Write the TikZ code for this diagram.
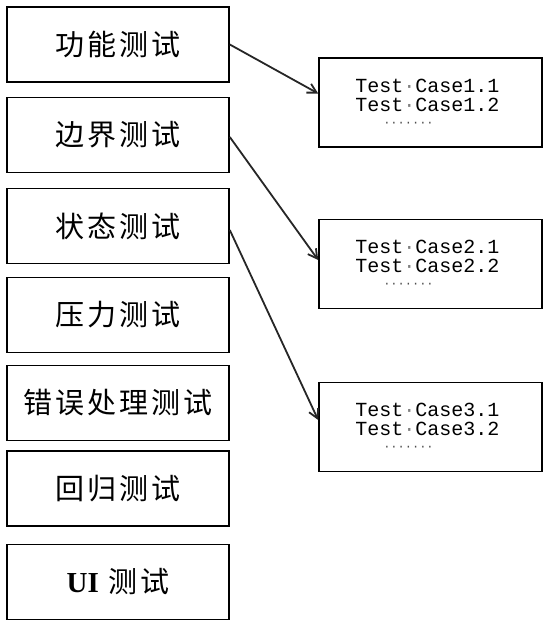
\documentclass[tikz,border=0pt]{standalone}
\usepackage{fontspec}
\newfontfamily\cjk[LetterSpace=10]{Noto Sans CJK SC}
\newfontfamily\mono{Liberation Mono}
\newfontfamily\serifb{Liberation Serif}
\usetikzlibrary{arrows.meta,calc}
\begin{document}
\begin{tikzpicture}[x=1pt,y=-1pt,
  lbox/.style={draw,line width=1.6pt,minimum width=222pt,minimum height=75pt,inner sep=0pt,
    font=\cjk\fontsize{29}{30}\selectfont},
  rbox/.style={draw,line width=1.6pt,minimum width=223pt,minimum height=89pt,inner sep=0pt},
  rtext/.style={inner sep=0pt,align=left,font=\mono\fontsize{20}{19}\selectfont},
  dots/.style={inner sep=0pt,text=black!70,font=\mono\fontsize{12}{12}\selectfont},
  conn/.style={draw=black!85,line width=1.8pt,-{Straight Barb[length=9pt,width=10pt]}}]
\path[use as bounding box] (0,0) rectangle (545,625);
\node[lbox] (b1) at (118,44.5) {功能测试};
\node[lbox] (b2) at (118,135) {边界测试};
\node[lbox] (b3) at (118,226) {状态测试};
\node[lbox] (b4) at (118,315) {压力测试};
\node[lbox] (b5) at (118,403) {错误处理测试};
\node[lbox] (b6) at (118,488.5) {回归测试};
\node[lbox] (b7) at (118,582) {{\serifb\bfseries UI} 测试};
\node[rbox] (r1) at (430.5,102.5) {};
\node[rbox] (r2) at (430.5,264) {};
\node[rbox] (r3) at (430.5,427) {};
\node[rtext] (r1t) at ($(r1)+(-3,-7.5)$) {Test{\color{gray}·}Case1.1\\Test{\color{gray}·}Case1.2};
\node[rtext] (r2t) at ($(r2)+(-3,-7.5)$) {Test{\color{gray}·}Case2.1\\Test{\color{gray}·}Case2.2};
\node[rtext] (r3t) at ($(r3)+(-3,-7.5)$) {Test{\color{gray}·}Case3.1\\Test{\color{gray}·}Case3.2};
\node[dots] (r1d) at ($(r1)+(-22,21.5)$) {·······};
\node[dots] (r2d) at ($(r2)+(-22,21.5)$) {·······};
\node[dots] (r3d) at ($(r3)+(-22,21.5)$) {·······};
\coordinate (t1) at ($(r1.west)+(0,-9)$);
\coordinate (t2) at ($(r2.west)+(0,-4)$);
\coordinate (t3) at ($(r3.west)+(0,-7)$);
\coordinate (s2) at ($(b2.east)+(0,2)$);
\coordinate (s3) at ($(b3.east)+(0,4)$);
\draw[conn] (b1.east) -- (t1);
\draw[conn] (s2) -- (t2);
\draw[conn] (s3) -- (t3);
\end{tikzpicture}
\end{document}
